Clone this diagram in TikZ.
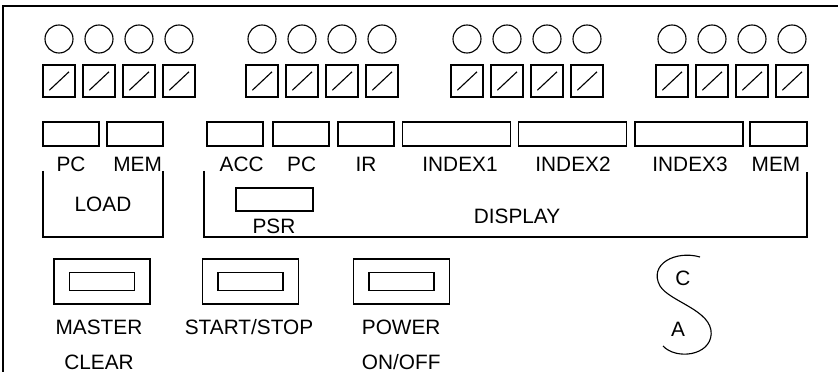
\documentclass[tikz,border=0pt]{standalone}
\usepackage{fontspec}
\setmainfont{Liberation Sans}
\usetikzlibrary{positioning}

\begin{document}
\begin{tikzpicture}[line width=0.8pt,
  lbl/.style={font=\fontsize{14.8}{24.9}\selectfont, inner sep=0pt, align=center},
  lamp/.style={draw, circle, minimum size=0.7cm, inner sep=0pt},
  switchbox/.style={draw, minimum width=0.8cm, minimum height=0.8cm, inner sep=0pt},
  regbox/.style={draw, minimum height=0.6cm, inner sep=0pt},
  keybox/.style={draw, minimum width=2.4cm, minimum height=1.125cm, inner sep=0pt},
  keycap/.style={draw, minimum width=1.625cm, minimum height=0.45cm, inner sep=0pt}]
  \useasboundingbox (0,0) rectangle (20.95,9.3);
  \draw (0.075,-0.5) rectangle (21.5,9.15);
  % lamps and switches
  \foreach \g/\x in {1/1.475, 2/6.55, 3/11.675, 4/16.8}
    \foreach \i in {0,...,3} {
      \node[lamp] (lamp\g\i) at (\x+\i,8.325) {};
      \node[switchbox] (sw\g\i) at (\x+\i,7.275) {};
      \draw ([shift={(-0.24,-0.23)}]sw\g\i.center) -- ([shift={(0.25,0.23)}]sw\g\i.center);
    }
  % registers
  \node[regbox, minimum width=1.4cm] (ldPC) at (1.775,5.95) {};
  \node[regbox, minimum width=1.4cm] (ldMEM) at (3.375,5.95) {};
  \node[regbox, minimum width=1.4cm] (dpACC) at (5.875,5.95) {};
  \node[regbox, minimum width=1.4cm] (dpPC) at (7.525,5.95) {};
  \node[regbox, minimum width=1.4cm] (dpIR) at (9.15,5.95) {};
  \node[regbox, minimum width=2.7cm] (dpIX1) at (11.41,5.95) {};
  \node[regbox, minimum width=2.7cm] (dpIX2) at (14.31,5.95) {};
  \node[regbox, minimum width=2.7cm] (dpIX3) at (17.225,5.95) {};
  \node[regbox, minimum width=1.425cm] (dpMEM) at (19.4625,5.95) {};
  \node[lbl] (tPC) at (1.775,5.2) {PC};
  \node[lbl] (tMEM) at (3.44,5.2) {MEM};
  \node[lbl] (tACC) at (6.04,5.2) {ACC};
  \node[lbl] (tPC2) at (7.54,5.2) {PC};
  \node[lbl] (tIR) at (9.15,5.2) {IR};
  \node[lbl] (tIX1) at (11.5,5.2) {INDEX1};
  \node[lbl] (tIX2) at (14.325,5.2) {INDEX2};
  \node[lbl] (tIX3) at (17.25,5.2) {INDEX3};
  \node[lbl] (tMEM2) at (19.4,5.2) {MEM};
  % brackets
  \draw (1.075,5.025) |- (4.075,3.375) -- (4.075,5.025);
  \draw (5.1,5.025) |- (20.175,3.375) -- (20.175,5.0);
  \node[lbl] (tLOAD) at (2.575,4.2) {LOAD};
  \node[lbl] (tDISP) at (12.925,3.9) {DISPLAY};
  \node[regbox, minimum width=1.925cm, minimum height=0.575cm] (dpPSR) at (6.8625,4.3125) {};
  \node[lbl] (tPSR) at (6.85,3.65) {PSR};
  % keys
  \foreach \k/\x in {mc/2.55, ss/6.2625, pw/10.0375} {
    \node[keybox] (key\k) at (\x,2.2625) {};
    \node[keycap] (cap\k) at (\x,2.2625) {};
  }
  \node[lbl] (tmc) at (2.475,0.6875) {MASTER\\CLEAR};
  \node[lbl] (tss) at (6.225,1.125) {START/STOP};
  \node[lbl] (tpw) at (10.03,0.6875) {POWER\\ON/OFF};
  % key switch
  \draw (17.5,2.875) .. controls (16.9,3.05) and (16.2,2.7) .. (16.5,2.15)
    .. controls (16.75,1.75) and (17.8,1.55) .. (17.78,0.95)
    .. controls (17.75,0.4) and (16.9,0.3) .. (16.575,0.65);
  \node[lbl] (tC) at (17.075,2.35) {C};
  \node[lbl] (tA) at (16.95,1.075) {A};
\end{tikzpicture}
\end{document}
